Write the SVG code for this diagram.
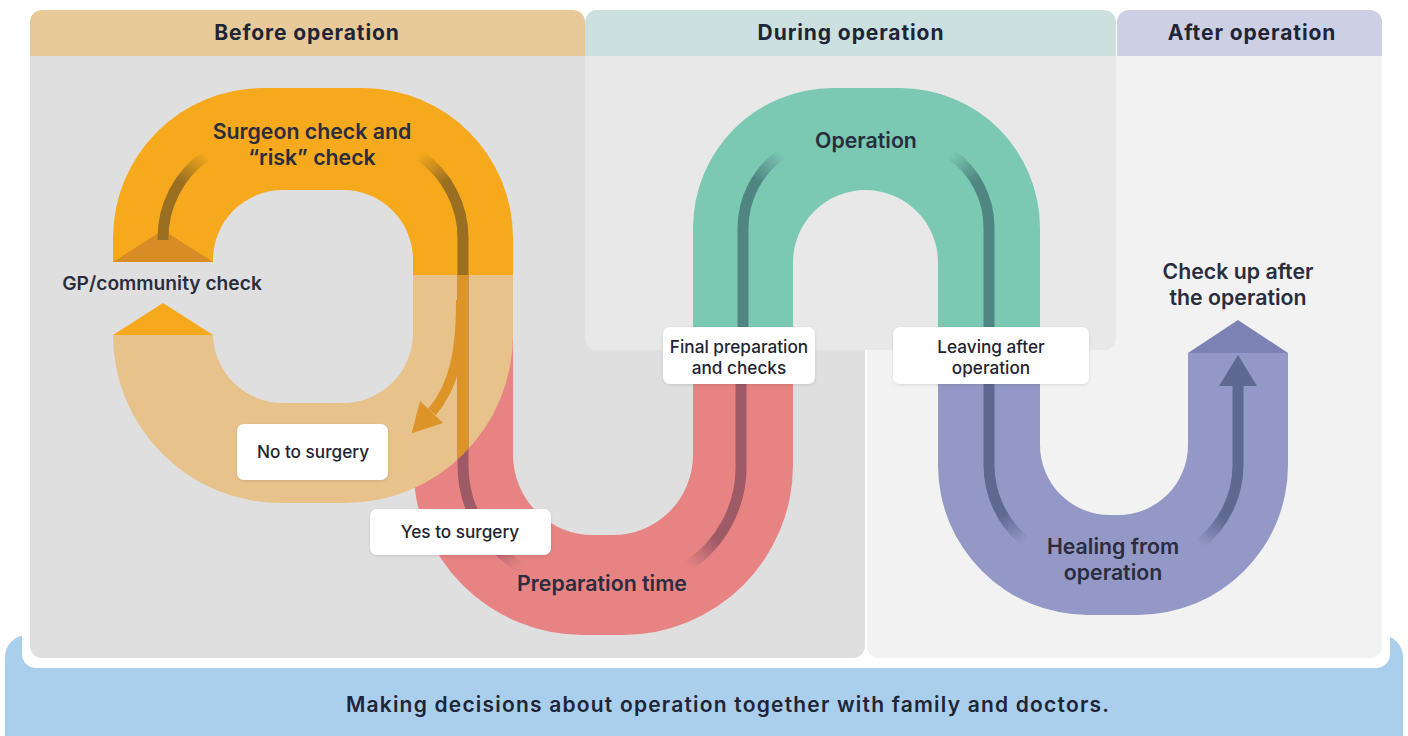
<svg xmlns="http://www.w3.org/2000/svg" width="1408" height="736" viewBox="0 0 1408 736">
<style>
  .hdr{font-family:Inter,"Liberation Sans",sans-serif;font-weight:700;font-size:21px;letter-spacing:0.9px;fill:#1E2536;text-anchor:middle}
  .trk{font-family:Inter,"Liberation Sans",sans-serif;font-weight:600;font-size:21.3px;fill:#2A2D3E;text-anchor:middle}
  .lbl{font-family:Inter,"Liberation Sans",sans-serif;font-weight:500;font-size:17.2px;fill:#22252F;text-anchor:middle}
  .box{fill:#FFFFFF}
  .ln{fill:none;stroke-width:11}
</style>
<defs>
  <path id="tanShape" d="M513,275 L513,335 A168,168 0 0 1 345,503 L281,503 A168,168 0 0 1 113,335 L213,335 L213,333 A70,70 0 0 0 283,403 L343,403 A70,70 0 0 0 413,333 L413,275 Z"/>
  <clipPath id="tanClip"><use href="#tanShape"/></clipPath>
  <filter id="sh" x="-10%" y="-10%" width="120%" height="130%">
    <feDropShadow dx="0" dy="1" stdDeviation="1.5" flood-color="#000" flood-opacity="0.12"/>
  </filter>
  <linearGradient id="gOL" gradientUnits="userSpaceOnUse" x1="185" y1="185" x2="207" y2="155">
    <stop offset="0" stop-color="#9A6F22"/><stop offset="1" stop-color="#9A6F22" stop-opacity="0"/>
  </linearGradient>
  <linearGradient id="gOR" gradientUnits="userSpaceOnUse" x1="420" y1="155" x2="442" y2="185">
    <stop offset="0" stop-color="#9A6F22" stop-opacity="0"/><stop offset="1" stop-color="#9A6F22"/>
  </linearGradient>
  <linearGradient id="gRL" gradientUnits="userSpaceOnUse" x1="490" y1="540" x2="520" y2="567">
    <stop offset="0" stop-color="#9E5A66"/><stop offset="1" stop-color="#9E5A66" stop-opacity="0"/>
  </linearGradient>
  <linearGradient id="gRR" gradientUnits="userSpaceOnUse" x1="715" y1="538" x2="688" y2="566">
    <stop offset="0" stop-color="#9E5A66"/><stop offset="1" stop-color="#9E5A66" stop-opacity="0"/>
  </linearGradient>
  <linearGradient id="gGL" gradientUnits="userSpaceOnUse" x1="758" y1="182" x2="782" y2="154">
    <stop offset="0" stop-color="#4F8681"/><stop offset="1" stop-color="#4F8681" stop-opacity="0"/>
  </linearGradient>
  <linearGradient id="gGR" gradientUnits="userSpaceOnUse" x1="951" y1="154" x2="975" y2="182">
    <stop offset="0" stop-color="#4F8681" stop-opacity="0"/><stop offset="1" stop-color="#4F8681"/>
  </linearGradient>
  <linearGradient id="gPL" gradientUnits="userSpaceOnUse" x1="1002" y1="514" x2="1025" y2="541">
    <stop offset="0" stop-color="#5F6891"/><stop offset="1" stop-color="#5F6891" stop-opacity="0"/>
  </linearGradient>
  <linearGradient id="gPR" gradientUnits="userSpaceOnUse" x1="1200" y1="544" x2="1222" y2="516">
    <stop offset="0" stop-color="#5F6891" stop-opacity="0"/><stop offset="1" stop-color="#5F6891"/>
  </linearGradient>
</defs>

<rect x="0" y="0" width="1408" height="736" fill="#FFFFFF"/>

<g id="footer">
  <rect x="5" y="635" width="1398" height="130" rx="22" fill="#AACFEC"/>
  <rect x="22" y="-20" width="1368" height="688" rx="14" fill="#FFFFFF"/>
  <text class="hdr" x="728" y="712" style="font-weight:600;letter-spacing:1.2px">Making decisions about operation together with family and doctors.</text>
</g>

<g id="panel-before">
  <path d="M30,56 L865,56 L865,646 A12,12 0 0 1 853,658 L42,658 A12,12 0 0 1 30,646 Z" fill="#DFDFDF"/>
  <path d="M30,56 L30,22 A12,12 0 0 1 42,10 L573,10 A12,12 0 0 1 585,22 L585,56 Z" fill="#E8C99A"/>
  <text class="hdr" x="307" y="40">Before operation</text>
</g>
<g id="panel-after">
  <path d="M867,56 L1382,56 L1382,646 A12,12 0 0 1 1370,658 L879,658 A12,12 0 0 1 867,646 Z" fill="#F2F2F2"/>
  <path d="M1117,56 L1117,22 A12,12 0 0 1 1129,10 L1370,10 A12,12 0 0 1 1382,22 L1382,56 Z" fill="#CDD0E4"/>
  <text class="hdr" x="1252" y="40">After operation</text>
</g>
<g id="panel-during">
  <path d="M585,56 L1116,56 L1116,338 A12,12 0 0 1 1104,350 L597,350 A12,12 0 0 1 585,338 Z" fill="#E8E8E8"/>
  <path d="M585,56 L585,22 A12,12 0 0 1 597,10 L1104,10 A12,12 0 0 1 1116,22 L1116,56 Z" fill="#CCE0DF"/>
  <text class="hdr" x="851" y="40">During operation</text>
</g>

<g id="track-preparation">
  <path d="M413,290 L413,465 A170,170 0 0 0 583,635 L623,635 A170,170 0 0 0 793,465 L793,356 L693,356 L693,455 A80,80 0 0 1 613,535 L593,535 A80,80 0 0 1 513,455 L513,290 Z" fill="#E88383"/>
</g>
<g id="track-no-surgery">
  <use href="#tanShape" fill="#E8C28B"/>
  <polygon points="113,335 213,335 163,303" fill="#F6A91C"/>
</g>
<g id="track-surgeon-check">
  <path d="M113,262 L113,238 A150,150 0 0 1 263,88 L363,88 A150,150 0 0 1 513,238 L513,275 L413,275 L413,260 A70,70 0 0 0 343,190 L283,190 A70,70 0 0 0 213,260 L213,262 Z" fill="#F6A91C"/>
  <polygon points="113,262 213,262 163,230" fill="#D98B26"/>
</g>
<g id="track-operation">
  <path d="M693,356 L693,228 A140,140 0 0 1 833,88 L900,88 A140,140 0 0 1 1040,228 L1040,356 L938,356 L938,262.5 A72.5,72.5 0 0 0 793,262.5 L793,356 Z" fill="#7BC8B3"/>
</g>
<g id="track-healing">
  <path d="M938,356 L938,465 A150,150 0 0 0 1088,615 L1138,615 A150,150 0 0 0 1288,465 L1288,353 L1188,353 L1188,445 A70,70 0 0 1 1118,515 L1110,515 A70,70 0 0 1 1040,445 L1040,356 Z" fill="#9498C6"/>
  <polygon points="1188,353 1288,353 1238,320" fill="#7C82B4"/>
</g>

<g id="connectors">
  <path class="ln" d="M163,240 L163,238 A100,100 0 0 1 205.6,156.1" stroke="url(#gOL)"/>
  <path class="ln" d="M420.4,156.1 A100,100 0 0 1 463,238 L463,276" stroke="url(#gOR)"/>
  <path class="ln" d="M463,275 L463,465 A120,120 0 0 0 519.4,566.8" stroke="url(#gRL)"/>
  <g clip-path="url(#tanClip)">
    <path class="ln" d="M463,275 L463,480" stroke="#DC9428"/>
    <path d="M461,300 C461,350 455,385 432,412" fill="none" stroke="#DC9428" stroke-width="10"/>
  </g>
  <polygon points="420,401 443,423 411.7,433.3" fill="#DC9428"/>
  <path class="ln" d="M741,384 L741,465 A118,118 0 0 1 688.4,565.6" stroke="url(#gRR)"/>
  <path class="ln" d="M743,330 L743,228 A90,90 0 0 1 781.4,154.3" stroke="url(#gGL)"/>
  <path class="ln" d="M951,154.3 A89,89 0 0 1 989,228 L989,330" stroke="url(#gGR)"/>
  <path class="ln" d="M989,384 L989,465 A99,99 0 0 0 1024.4,540.8" stroke="url(#gPL)"/>
  <path class="ln" d="M1199.6,543.8 A100,100 0 0 0 1238,465 L1238,382" stroke="url(#gPR)"/>
  <polygon points="1219,386 1257,386 1238,355" fill="#5F6891"/>
</g>

<g id="label-gp">
  <text class="trk" x="162" y="290" style="font-size:19.2px">GP/community check</text>
</g>
<g id="label-surgeon">
  <text class="trk" x="312" y="139">Surgeon check and</text>
  <text class="trk" x="312" y="165">“risk” check</text>
</g>
<g id="label-operation">
  <text class="trk" x="866" y="148">Operation</text>
</g>
<g id="label-preparation">
  <text class="trk" x="602" y="591">Preparation time</text>
</g>
<g id="label-healing">
  <text class="trk" x="1113" y="554">Healing from</text>
  <text class="trk" x="1113" y="580">operation</text>
</g>
<g id="label-checkup">
  <text class="trk" x="1238" y="279">Check up after</text>
  <text class="trk" x="1238" y="305">the operation</text>
</g>
<g id="box-no">
  <rect class="box" x="237" y="424" width="151" height="56" rx="7" filter="url(#sh)"/>
  <text class="lbl" x="313" y="458">No to surgery</text>
</g>
<g id="box-yes">
  <rect class="box" x="370" y="509" width="181" height="46" rx="7" filter="url(#sh)"/>
  <text class="lbl" x="460" y="538">Yes to surgery</text>
</g>
<g id="box-final">
  <rect class="box" x="663" y="327" width="152" height="57" rx="7" filter="url(#sh)"/>
  <text class="lbl" x="739" y="353">Final preparation</text>
  <text class="lbl" x="739" y="374">and checks</text>
</g>
<g id="box-leaving">
  <rect class="box" x="893" y="327" width="196" height="57" rx="7" filter="url(#sh)"/>
  <text class="lbl" x="991" y="353">Leaving after</text>
  <text class="lbl" x="991" y="374">operation</text>
</g>
</svg>
